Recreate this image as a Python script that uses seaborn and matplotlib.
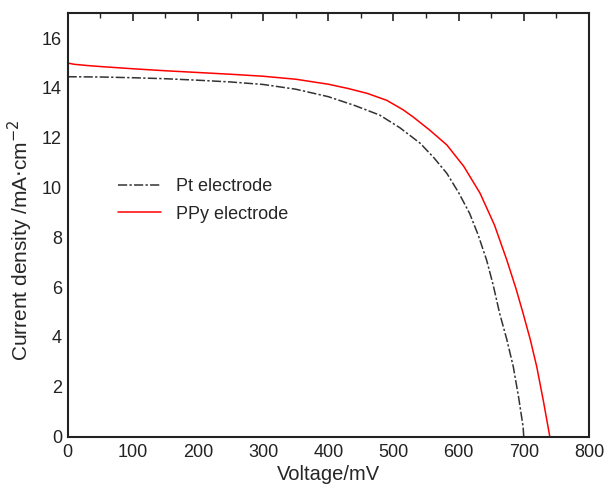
import matplotlib
matplotlib.use("Agg")
import matplotlib.pyplot as plt
import seaborn as sns
import pandas as pd
from matplotlib.ticker import MultipleLocator

pt_voltage = [0, 50, 100, 150, 200, 250, 300, 350, 400, 440, 479, 510, 541, 562, 582, 600,
              617, 630, 643, 653, 663, 674, 684, 692, 699, 700]
pt_current = [14.45, 14.44, 14.41, 14.37, 14.31, 14.24, 14.14, 13.95, 13.65, 13.3, 12.91, 12.4,
              11.78, 11.2, 10.57, 9.8, 8.96, 8.1, 7.09, 6.1, 4.95, 3.9, 2.8, 1.6, 0.4, 0.0]

ppy_voltage = [0, 10, 30, 50, 100, 150, 200, 250, 300, 350, 400, 430, 460, 490, 515, 530, 556, 582,
               608, 633, 655, 674, 688, 699, 710, 720, 730, 740]
ppy_current = [15.0, 14.95, 14.9, 14.86, 14.77, 14.69, 14.62, 14.55, 14.47, 14.35, 14.15, 13.98,
               13.78, 13.5, 13.12, 12.84, 12.3, 11.71, 10.85, 9.77, 8.5, 7.09, 5.95, 4.95, 3.9, 2.8,
               1.45, 0.0]

series_names = ["Pt electrode", "PPy electrode"]

df = pd.concat([
    pd.DataFrame({"Voltage": pt_voltage, "Current": pt_current, "Electrode": series_names[0]}),
    pd.DataFrame({"Voltage": ppy_voltage, "Current": ppy_current, "Electrode": series_names[1]}),
], ignore_index=True)

sns.set_theme(style="white")
plt.rcParams["font.family"] = ["Liberation Sans", "DejaVu Sans"]

fig = plt.figure(figsize=(6.09, 4.9), dpi=100)
ax = fig.add_axes([0.111, 0.109, 0.856, 0.864])

sns.lineplot(data=df, x="Voltage", y="Current", hue="Electrode", style="Electrode",
             palette={series_names[0]: "#333333", series_names[1]: "#ff0000"},
             dashes={series_names[0]: (6, 1.5, 1.5, 1.5), series_names[1]: ""},
             linewidth=1.1, ax=ax, sort=False)

ax.set_xlim(0, 800)
ax.set_ylim(0, 17)
ax.xaxis.set_major_locator(MultipleLocator(100))
ax.xaxis.set_minor_locator(MultipleLocator(50))
ax.yaxis.set_major_locator(MultipleLocator(2))
ax.yaxis.set_minor_locator(MultipleLocator(1))
ax.tick_params(axis="both", which="major", direction="in", length=6, width=1.2,
               labelsize=13, colors="#222222", top=True, right=False, pad=4)
ax.tick_params(axis="both", which="minor", direction="in", length=3.5, width=1.0,
               top=True, right=False)
ax.tick_params(axis="x", pad=5)
for s in ax.spines.values():
    s.set_linewidth(1.5)
    s.set_color("#222222")

ax.set_xlabel("Voltage/mV", fontsize=14.5, labelpad=3)
ax.set_ylabel("Current density /mA$\\cdot$cm$^{-2}$", fontsize=15)
ax.yaxis.set_label_coords(-0.063, 0.464)

ax.legend(loc="upper left", bbox_to_anchor=(0.083, 0.628), frameon=False, fontsize=13,
          handlelength=2.4, handletextpad=0.8, labelspacing=0.6, borderaxespad=0, title=None)

fig.savefig("out.png", dpi=100)
